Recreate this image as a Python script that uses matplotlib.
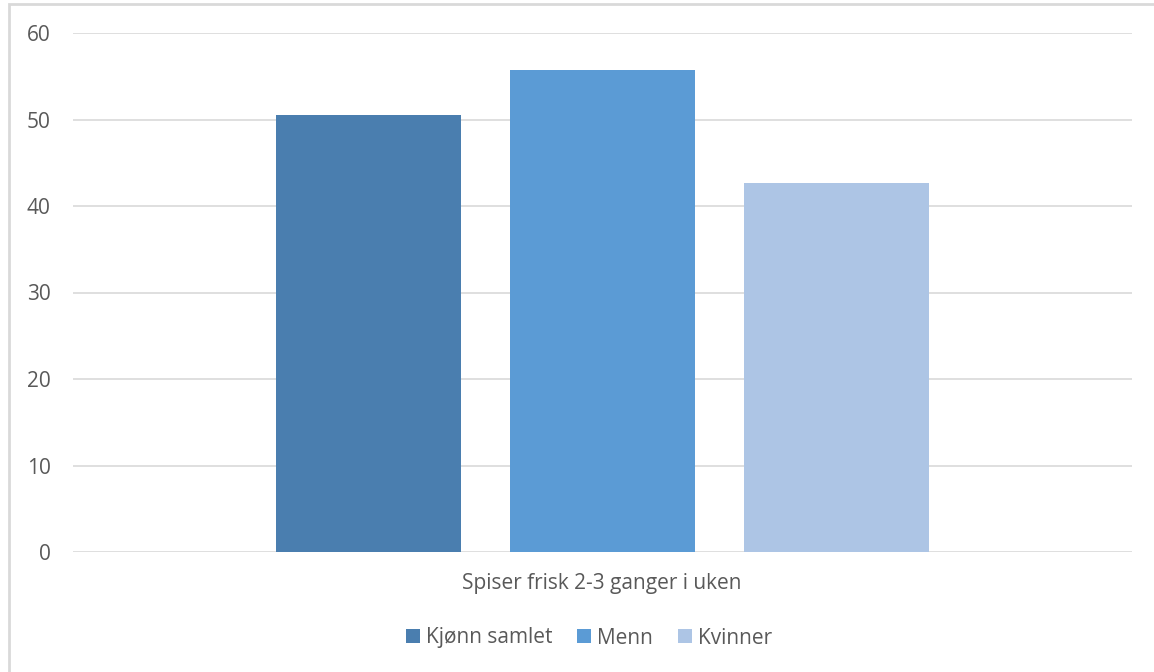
import matplotlib.pyplot as plt
from matplotlib.patches import Rectangle

category = "Spiser frisk 2-3 ganger i uken"
series = ["Kjønn samlet", "Menn", "Kvinner"]
values = [50.5, 55.7, 42.7]
colors = ["#4A7EAF", "#5B9BD5", "#ADC5E5"]
yticks = [0, 10, 20, 30, 40, 50, 60]

plt.rcParams['font.family'] = ['Open Sans', 'DejaVu Sans']

W, H = 1154, 672
fig = plt.figure(figsize=(W / 100, H / 100), dpi=100)
ax = fig.add_axes([73 / W, 1 - 552 / H, (1132 - 73) / W, (552 - 33) / H])

# outer chart frame (Excel style)
fig.add_artist(Rectangle((8.5 / W, -0.1), 1.2, 1 - 3.5 / H + 0.1, transform=fig.transFigure,
                         fill=False, edgecolor="#D9D9D9", linewidth=2, clip_on=False))

bw = 185 / 1059
step = 234 / 1059
for i, (name, v, c) in enumerate(zip(series, values, colors)):
    ax.bar((i - 1) * step, v, width=bw, color=c, label=name, zorder=3)

ax.set_xlim(-0.5, 0.5)
ax.set_ylim(0, 60)
ax.set_yticks(yticks)
ax.set_xticks([])
ax.grid(axis="y", color="#D9D9D9", linewidth=1.2, zorder=0)
for s in ax.spines.values():
    s.set_visible(False)
ax.tick_params(axis="y", length=0, pad=16, labelsize=15, labelcolor="#595959")

fig.text(602 / W, 1 - 583 / H, category, ha="center", va="center", fontsize=15, color="#595959")

leg = fig.legend(loc="center", bbox_to_anchor=(589 / W, 1 - 638 / H), ncol=3, frameon=False,
                 fontsize=15, handlelength=0.65, handleheight=0.65, handletextpad=0.3,
                 columnspacing=1.2)
for t in leg.get_texts():
    t.set_color("#595959")

fig.savefig("out.png", dpi=100)
